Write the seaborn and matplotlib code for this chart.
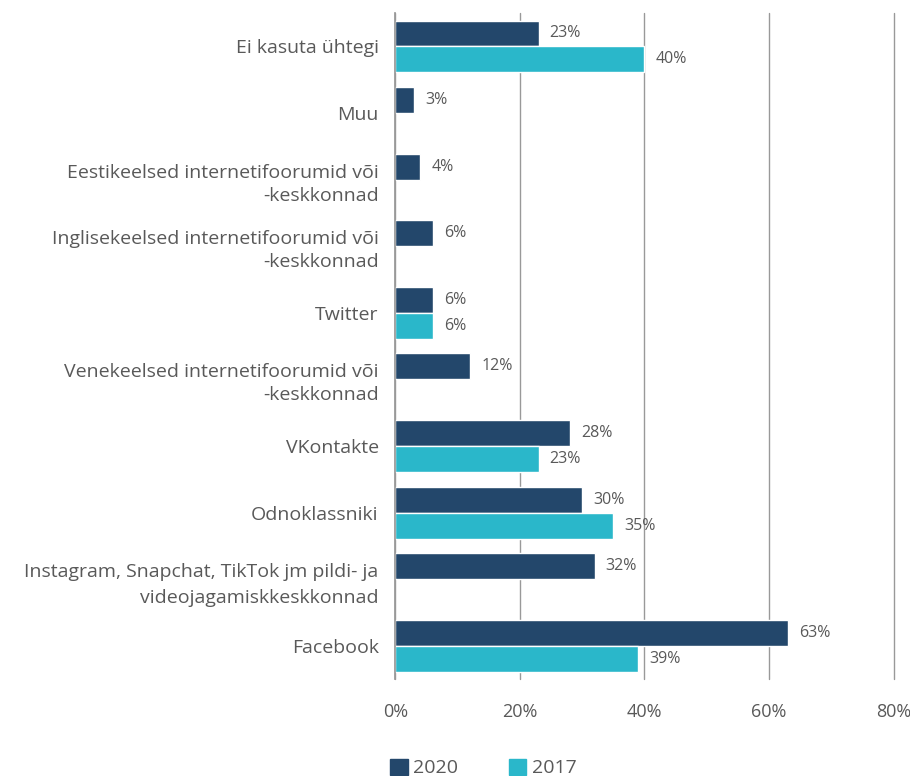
import numpy as np
import pandas as pd
import matplotlib
matplotlib.use('Agg')
import matplotlib.pyplot as plt
import seaborn as sns

# Kategooriad ülevalt alla
categories = [
    'Ei kasuta ühtegi',
    'Muu',
    'Eestikeelsed internetifoorumid või\n-keskkonnad',
    'Inglisekeelsed internetifoorumid või\n-keskkonnad',
    'Twitter',
    'Venekeelsed internetifoorumid või\n-keskkonnad',
    'VKontakte',
    'Odnoklassniki',
    'Instagram, Snapchat, TikTok jm pildi- ja\nvideojagamiskkeskkonnad',
    'Facebook',
]
values_2020 = [23, 3, 4, 6, 6, 12, 28, 30, 32, 63]
values_2017 = [40, np.nan, np.nan, np.nan, 6, np.nan, 23, 35, np.nan, 39]
years = ['2020', '2017']
colors = ['#23476b', '#2ab7ca']
x_ticks = [0, 20, 40, 60, 80]

df = pd.DataFrame({
    'kategooria': categories * 2,
    'aasta': ['2020'] * len(categories) + ['2017'] * len(categories),
    'osakaal': values_2020 + values_2017,
})

sns.set_theme(style='white')
plt.rcParams['font.family'] = ['Open Sans', 'DejaVu Sans']
text_color = '#595959'

fig = plt.figure(figsize=(9.1, 7.76), dpi=100)
ax = fig.add_axes([0.4344, 0.125, 0.5476, 0.858])

sns.barplot(data=df, y='kategooria', x='osakaal', hue='aasta', hue_order=years,
            order=categories, palette=colors, width=0.78, orient='h', ax=ax,
            saturation=1, errorbar=None, legend=False)

for cont in ax.containers:
    labels = ['' if np.isnan(b.get_width()) or b.get_width() == 0 else f'{b.get_width():.0f}%'
              for b in cont]
    ax.bar_label(cont, labels=labels, padding=8, fontsize=11.5, color=text_color)

ax.set_xlim(0, 80)
ax.set_xticks(x_ticks)
ax.set_xticklabels([f'{t}%' for t in x_ticks])
ax.set_ylim(len(categories) - 0.5, -0.5)
ax.grid(axis='x', color='#999999', linewidth=1)
for gl in ax.xaxis.get_gridlines():
    gl.set_clip_on(False)
ax.set_axisbelow(True)
for s in ['top', 'right', 'bottom']:
    ax.spines[s].set_visible(False)
ax.spines['left'].set_color('#999999')
ax.tick_params(axis='x', length=0, pad=17, labelsize=13, labelcolor=text_color)
ax.tick_params(axis='y', length=0, pad=12, labelsize=14, labelcolor=text_color)
for lbl in ax.get_yticklabels():
    lbl.set_linespacing(1.55 if lbl.get_text().startswith('Instagram') else 1.35)
ax.set_xlabel('')
ax.set_ylabel('')

# Legend all
handles = [plt.Rectangle((0, 0), 1, 1, color=c) for c in colors]
fig.legend(handles, years, loc='center left', bbox_to_anchor=(390 / 910, 1 - 768 / 776),
           ncol=2, frameon=False, fontsize=14, handlelength=0.9, handleheight=0.9,
           handletextpad=0.3, columnspacing=2.6, borderpad=0, borderaxespad=0,
           labelcolor=text_color)

plt.savefig('out.png', dpi=100)
